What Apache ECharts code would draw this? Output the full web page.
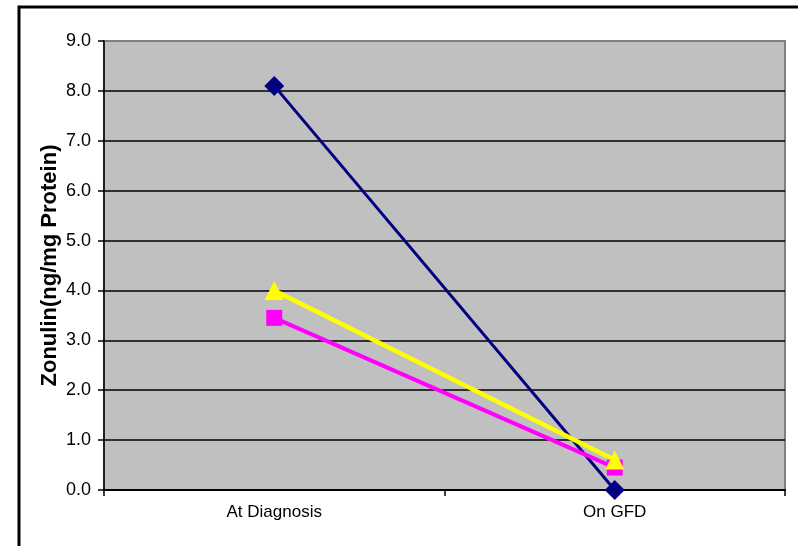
<!DOCTYPE html>
<html>
<head>
<meta charset="utf-8">
<script src="https://cdn.jsdelivr.net/npm/echarts@6/dist/echarts.min.js"></script>
<style>
html,body{margin:0;padding:0;background:#fff;}
#chart{width:798px;height:546px;}
</style>
</head>
<body>
<div id="chart"></div>
<script>
var categories = ['At Diagnosis', 'On GFD'];
var navyValues = [8.1, 0.0];
var magentaValues = [3.45, 0.45];
var yellowValues = [4.0, 0.6];
var yAxisTitle = 'Zonulin(ng/mg Protein)';

var labelFont = '"Liberation Sans", Arial, sans-serif';

var chart = echarts.init(document.getElementById('chart'), null, {renderer: 'canvas'});
chart.setOption({
  animation: false,
  backgroundColor: '#ffffff',
  graphic: [{
    type: 'rect',
    z: -10,
    shape: {x: 19, y: 7, width: 800, height: 600},
    style: {fill: 'none', stroke: '#000', lineWidth: 3}
  }],
  grid: {
    left: 104, right: 13, top: 41, bottom: 56,
    show: true,
    backgroundColor: '#C0C0C0',
    borderColor: '#808080',
    borderWidth: 2
  },
  xAxis: {
    type: 'category',
    data: categories,
    boundaryGap: true,
    axisLine: {show: true, lineStyle: {color: '#000', width: 2}},
    axisTick: {show: true, length: 6, lineStyle: {color: '#000', width: 1.5}},
    axisLabel: {color: '#000', fontFamily: labelFont, fontSize: 17, margin: 14},
    splitLine: {show: false}
  },
  yAxis: {
    type: 'value',
    min: 0, max: 9, interval: 1,
    name: yAxisTitle,
    nameLocation: 'middle',
    nameGap: 43,
    nameRotate: 90,
    nameMoveOverlap: false,
    nameTextStyle: {color: '#000', fontFamily: '"Liberation Sans", Arial, sans-serif', fontWeight: 'bold', fontSize: 22},
    axisLine: {show: true, lineStyle: {color: '#000', width: 1.5}},
    axisTick: {show: true, length: 6, lineStyle: {color: '#000', width: 1.5}},
    axisLabel: {color: '#000', fontFamily: labelFont, fontSize: 18, margin: 13,
      formatter: function (v) { return v.toFixed(1); }},
    splitLine: {show: true, showMinLine: false, showMaxLine: false, lineStyle: {color: '#000', width: 1.5}}
  },
  series: [
    {
      type: 'line', data: navyValues,
      symbol: 'diamond', symbolSize: 20,
      lineStyle: {color: '#000080', width: 3},
      itemStyle: {color: '#000080'}
    },
    {
      type: 'line', data: magentaValues,
      symbol: 'rect', symbolSize: 16,
      lineStyle: {color: '#FF00FF', width: 4},
      itemStyle: {color: '#FF00FF'}
    },
    {
      type: 'line', data: yellowValues,
      symbol: 'triangle', symbolSize: 19,
      lineStyle: {color: '#FFFF00', width: 4.5},
      itemStyle: {color: '#FFFF00'}
    }
  ]
});
</script>
</body>
</html>
